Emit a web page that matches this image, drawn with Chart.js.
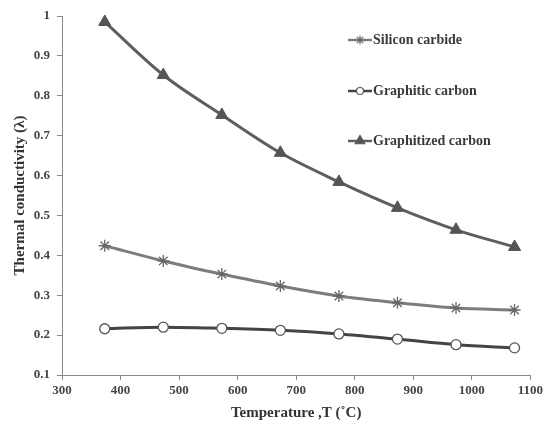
<!DOCTYPE html>
<html>
<head>
<meta charset="utf-8">
<script src="https://cdn.jsdelivr.net/npm/chart.js@4.4.1/dist/chart.umd.min.js"></script>
<style>
  html, body { margin: 0; padding: 0; background: #fff; }
  #wrap { width: 546px; height: 432px; position: relative; }
</style>
</head>
<body>
<div id="wrap"><canvas id="c" width="546" height="432"></canvas></div>
<script>
const temperatures = [373, 473, 573, 673, 773, 873, 973, 1073];
const siliconCarbide = [0.424, 0.386, 0.353, 0.323, 0.298, 0.281, 0.268, 0.263];
const graphiticCarbon = [0.216, 0.220, 0.217, 0.212, 0.203, 0.190, 0.176, 0.168];
const graphitizedCarbon = [0.985, 0.852, 0.752, 0.657, 0.584, 0.519, 0.464, 0.421];
const seriesNames = ['Silicon carbide', 'Graphitic carbon', 'Graphitized carbon'];
const xTitle = 'Temperature ,T (\u02DAC)';
const yTitle = 'Thermal conductivity (\u03BB)';

const toPts = (arr) => arr.map((v, i) => ({ x: temperatures[i], y: v }));
const serif = "'Liberation Serif', 'DejaVu Serif', serif";

const insideLegend = {
  id: 'insideLegend',
  afterDraw(chart) {
    const ctx = chart.ctx;
    const ys = [40, 91, 141];
    chart.data.datasets.forEach((ds, i) => {
      const y = ys[i];
      ctx.save();
      ctx.strokeStyle = ds.borderColor;
      ctx.lineWidth = 2.5;
      ctx.beginPath();
      ctx.moveTo(348, y);
      ctx.lineTo(372, y);
      ctx.stroke();
      ctx.fillStyle = ds.pointBackgroundColor;
      ctx.strokeStyle = ds.pointBorderColor;
      ctx.lineWidth = 1.2;
      Chart.helpers.drawPoint(ctx, { pointStyle: ds.pointStyle, radius: ds.pointRadius - 1.5, rotation: 0, borderWidth: 1.2 }, 360, y);
      ctx.fillStyle = '#3a3a3a';
      ctx.font = "bold 14px " + serif;
      ctx.textBaseline = 'middle';
      ctx.textAlign = 'left';
      ctx.fillText(ds.label, 373, y);
      ctx.restore();
    });
  }
};

const axisGrid = { display: true, drawOnChartArea: false, drawTicks: true, tickLength: 5, color: '#888' };

new Chart(document.getElementById('c'), {
  type: 'line',
  data: {
    datasets: [
      {
        label: seriesNames[0], data: toPts(siliconCarbide),
        borderColor: '#7d7d7d', borderWidth: 3,
        pointStyle: 'star', pointRadius: 6, pointBorderColor: '#666', pointBackgroundColor: '#666', pointBorderWidth: 1.3,
        tension: 0.4, cubicInterpolationMode: 'monotone', clip: false
      },
      {
        label: seriesNames[1], data: toPts(graphiticCarbon),
        borderColor: '#444', borderWidth: 3,
        pointStyle: 'circle', pointRadius: 5, pointBorderColor: '#555', pointBackgroundColor: '#fff', pointBorderWidth: 1.3,
        tension: 0.4, cubicInterpolationMode: 'monotone', clip: false
      },
      {
        label: seriesNames[2], data: toPts(graphitizedCarbon),
        borderColor: '#5e5e5e', borderWidth: 3,
        pointStyle: 'triangle', pointRadius: 7, pointBorderColor: '#555', pointBackgroundColor: '#555', pointBorderWidth: 1,
        tension: 0.4, cubicInterpolationMode: 'monotone', clip: false
      }
    ]
  },
  options: {
    responsive: false,
    animation: false,
    devicePixelRatio: 1,
    layout: { padding: { top: 16, right: 15, left: 0, bottom: 10 } },
    plugins: { legend: { display: false }, tooltip: { enabled: false } },
    scales: {
      x: {
        type: 'linear', min: 300, max: 1100,
        afterFit: (s) => { s.height = 47; },
        grid: axisGrid,
        border: { display: true, color: '#888', width: 1 },
        ticks: {
          stepSize: 100, color: '#444', font: { family: serif, size: 13, weight: 'bold' }, padding: 3, maxRotation: 0,
          callback: (v) => String(v)
        },
        title: { display: true, text: xTitle, color: '#333', font: { family: serif, size: 15, weight: 'bold' }, padding: { top: 0, bottom: 0 } }
      },
      y: {
        type: 'linear', min: 0.1, max: 1,
        afterFit: (s) => { s.width = 62; },
        grid: axisGrid,
        border: { display: true, color: '#888', width: 1 },
        ticks: {
          stepSize: 0.1, color: '#444', font: { family: serif, size: 13, weight: 'bold' }, padding: 7,
          callback: (v) => String(Number(v.toFixed(1)))
        },
        title: { display: true, text: yTitle, color: '#333', font: { family: serif, size: 15, weight: 'bold' }, padding: { top: 11, bottom: 0 } }
      }
    }
  },
  plugins: [insideLegend]
});
</script>
</body>
</html>
